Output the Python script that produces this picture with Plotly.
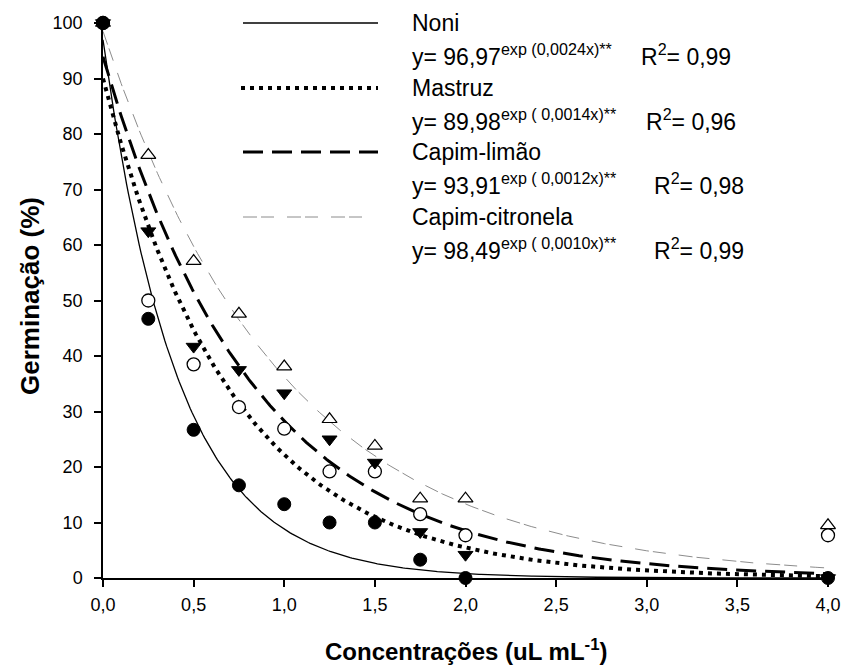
import numpy as np
import plotly.graph_objects as go

conc = [0, 0.25, 0.5, 0.75, 1.0, 1.25, 1.5, 1.75, 2.0, 4.0]
noni = [100, 46.7, 26.7, 16.7, 13.3, 10.0, 10.0, 3.3, 0.0, 0.0]
mastruz = [100, 50.0, 38.5, 30.8, 26.9, 19.2, 19.2, 11.5, 7.7, 7.7]
limao = [100, 62.5, 41.7, 37.5, 33.3, 25.0, 20.8, 8.3, 4.2, 0.0]
citronela = [100, 76.2, 57.1, 47.6, 38.1, 28.6, 23.8, 14.3, 14.3, 9.5]

names = ["Noni", "Mastruz", "Capim-limão", "Capim-citronela"]
coef_a = [96.97, 89.98, 93.91, 98.49]
coef_b = [0.0024, 0.0014, 0.0012, 0.0010]
r2 = ["0,99", "0,96", "0,98", "0,99"]
eq_b_txt = ["(0,0024x)**", "( 0,0014x)**", "( 0,0012x)**", "( 0,0010x)**"]
x_ticks = [0, 0.5, 1, 1.5, 2, 2.5, 3, 3.5, 4]
y_ticks = list(range(0, 101, 10))

W, H = 844, 672
L, R, T, B = 103, 16, 23, 94
pw, ph = W - L - R, H - T - B

def px(x):
    return (x - L) / pw

def py(y):
    return (H - B - y) / ph

line_styles = [
    dict(color="black", width=1.3, dash="solid"),
    dict(color="black", width=4, dash="4px,5px"),
    dict(color="black", width=3, dash="20px,9px"),
    dict(color="#8c8c8c", width=1.0, dash="14px,4px,13px,13px"),
]
marker_styles = [
    dict(symbol="circle", color="black", size=13, line=dict(color="black", width=1)),
    dict(symbol="circle", color="white", size=13, line=dict(color="black", width=1.3)),
    dict(symbol="triangle-down", color="black", size=13, line=dict(color="black", width=1)),
    dict(symbol="triangle-up", color="white", size=13, line=dict(color="black", width=1.2)),
]
series = [noni, mastruz, limao, citronela]

fig = go.Figure()
xs = np.linspace(0, 4, 400)
for i in range(4):
    ys = coef_a[i] * np.exp(-coef_b[i] * 1000 * xs)
    fig.add_trace(go.Scatter(x=xs, y=ys, mode="lines", line=line_styles[i],
                             showlegend=False, hoverinfo="skip", cliponaxis=False))
for i in [3, 1, 2, 0]:
    fig.add_trace(go.Scatter(x=conc, y=series[i], mode="markers", marker=marker_styles[i],
                             showlegend=False, cliponaxis=False, name=names[i]))

# legend drawn manually
leg_rows = [23, 88, 152, 217]
leg_x0 = [243, 241, 243, 243]
leg_x1 = [378, 378, 378, 365]
r2_x = [639, 644, 652, 652]
FS = 23
shapes = []
annotations = []
for i in range(4):
    ls = line_styles[i]
    shapes.append(dict(type="line", xref="paper", yref="paper",
                       x0=px(leg_x0[i]), x1=px(leg_x1[i]),
                       y0=py(leg_rows[i]), y1=py(leg_rows[i]),
                       line=dict(color=ls["color"], width=ls["width"] if i != 0 else 1.6, dash=ls["dash"])))
    annotations.append(dict(xref="paper", yref="paper", x=px(410), y=py(leg_rows[i]),
                            xanchor="left", yanchor="middle", showarrow=False,
                            text=names[i], font=dict(size=FS)))
    annotations.append(dict(xref="paper", yref="paper", x=px(410), y=py(leg_rows[i] + 32),
                            xanchor="left", yanchor="middle", showarrow=False,
                            text="y= %s<sup>exp %s</sup>" % (f"{coef_a[i]:.2f}".replace(".", ","), eq_b_txt[i]),
                            font=dict(size=FS)))
    annotations.append(dict(xref="paper", yref="paper", x=px(r2_x[i]), y=py(leg_rows[i] + 32),
                            xanchor="left", yanchor="middle", showarrow=False,
                            text="R<sup>2</sup>= %s" % r2[i], font=dict(size=FS)))

# axis titles
annotations.append(dict(xref="paper", yref="paper", x=px(467), y=py(650),
                        xanchor="center", yanchor="middle", showarrow=False,
                        text="<b>Concentrações (uL mL<sup>-1</sup>)</b>", font=dict(size=24)))
annotations.append(dict(xref="paper", yref="paper", x=px(30), y=py(296),
                        xanchor="center", yanchor="middle", showarrow=False, textangle=-90,
                        text="<b>Germinação (%)</b>", font=dict(size=26)))

tickfont = dict(size=18, family="Liberation Sans, Arial")
fig.update_layout(
    width=W, height=H,
    margin=dict(l=L, r=R, t=T, b=B),
    paper_bgcolor="white", plot_bgcolor="white",
    separators=",.",
    font=dict(family="Liberation Sans, Arial, sans-serif", color="black"),
    shapes=shapes, annotations=annotations,
    xaxis=dict(range=[0, 4], tickvals=x_ticks, tickformat=".1f", automargin=False,
               showgrid=False, zeroline=False, showline=True, linecolor="black", linewidth=1.5,
               ticks="outside", ticklen=7, tickcolor="black", tickwidth=1.5,
               tickfont=tickfont, ticklabelstandoff=3),
    yaxis=dict(range=[0, 100], tickvals=y_ticks, automargin=False,
               showgrid=False, zeroline=False, showline=True, linecolor="black", linewidth=1.5,
               ticks="outside", ticklen=7, tickcolor="black", tickwidth=1.5,
               tickfont=tickfont, ticklabelstandoff=8),
)
fig.write_html("out.html")
